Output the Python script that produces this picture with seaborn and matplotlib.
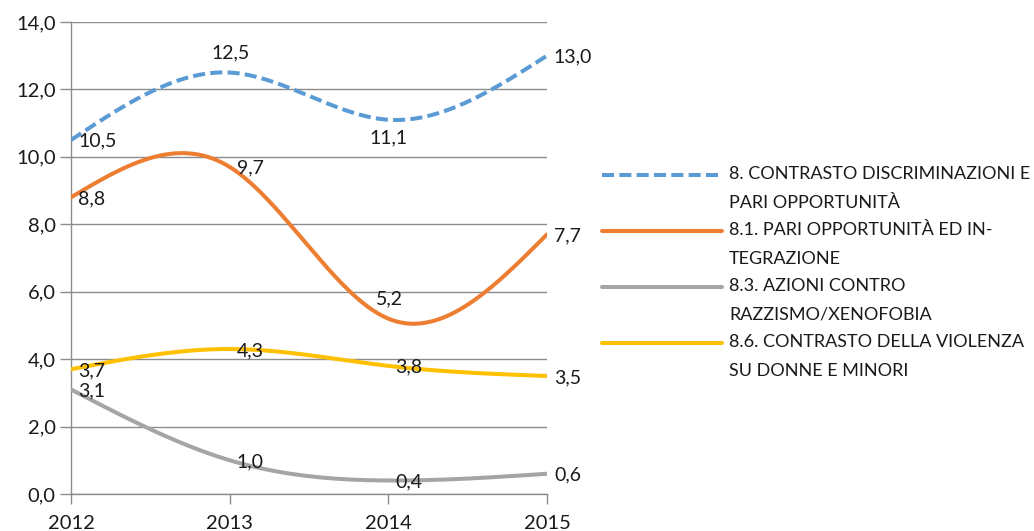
import numpy as np
import pandas as pd
import matplotlib
matplotlib.use("Agg")
import matplotlib.pyplot as plt
import seaborn as sns
from matplotlib.lines import Line2D

# data
years = [2012, 2013, 2014, 2015]
s8 = [10.5, 12.5, 11.1, 13.0]
s81 = [8.8, 9.7, 5.2, 7.7]
s83 = [3.1, 1.0, 0.4, 0.6]
s86 = [3.7, 4.3, 3.8, 3.5]

names = ["8. CONTRASTO DISCRIMINAZIONI E\nPARI OPPORTUNITÀ",
         "8.1. PARI OPPORTUNITÀ ED IN-\nTEGRAZIONE",
         "8.3. AZIONI CONTRO\nRAZZISMO/XENOFOBIA",
         "8.6. CONTRASTO DELLA VIOLENZA\nSU DONNE E MINORI"]
colors = ["#5B9BD5", "#ED7D31", "#A5A5A5", "#FFC000"]

# where the data labels sit (r = right, a = above, b = below)
label_pos = [["r", "a", "b", "r"],
             ["r", "r", "a", "r"],
             ["r", "r", "r", "r"],
             ["r", "r", "r", "r"]]


def smooth(x, y, n=200):
    # natural cubic spline, like the smoothed lines of the original
    x = np.asarray(x, float)
    y = np.asarray(y, float)
    k = len(x)
    h = np.diff(x)
    A = np.zeros((k, k))
    b = np.zeros(k)
    A[0, 0] = A[-1, -1] = 1
    for i in range(1, k - 1):
        A[i, i - 1] = h[i - 1]
        A[i, i] = 2 * (h[i - 1] + h[i])
        A[i, i + 1] = h[i]
        b[i] = 6 * ((y[i + 1] - y[i]) / h[i] - (y[i] - y[i - 1]) / h[i - 1])
    M = np.linalg.solve(A, b)
    xs = np.linspace(x[0], x[-1], n)
    j = np.clip(np.searchsorted(x, xs) - 1, 0, k - 2)
    hj = h[j]
    a = (x[j + 1] - xs) / hj
    t = (xs - x[j]) / hj
    ys = (a * y[j] + t * y[j + 1]
          + ((a ** 3 - a) * M[j] + (t ** 3 - t) * M[j + 1]) * hj ** 2 / 6)
    return xs, ys


sns.set_style("white")
plt.rcParams["font.family"] = ["Lato", "DejaVu Sans"]

fig = plt.figure(figsize=(10.34, 5.31), dpi=100)
ax = fig.add_axes([0.0687, 0.0697, 0.4603, 0.8889])

series = [s8, s81, s83, s86]
for i, vals in enumerate(series):
    xs, ys = smooth(years, vals)
    df = pd.DataFrame({"year": xs, "val": ys})
    ls = (0, (3.0, 1.3)) if i == 0 else "-"
    sns.lineplot(data=df, x="year", y="val", ax=ax, color=colors[i],
                 lw=2.9, linestyle=ls, zorder=3 + i)
    for yr, v, p in zip(years, vals, label_pos[i]):
        txt = f"{v:.1f}".replace(".", ",")
        if p == "r":
            off, ha, va = (5, -1), "left", "center"
        elif p == "a":
            off, ha, va = (1, 14), "center", "center"
        else:
            off, ha, va = (0, -13), "center", "center"
        ax.annotate(txt, (yr, v), xytext=off, textcoords="offset points",
                    ha=ha, va=va, fontsize=14, color="#1a1a1a", zorder=10)

ax.set_xlim(2012, 2015)
ax.set_ylim(0, 14)
ax.set_xticks(years)
ax.set_xticklabels([str(y) for y in years])
ax.set_yticks(np.arange(0, 15, 2))
ax.set_yticklabels([f"{v:.1f}".replace(".", ",") for v in np.arange(0, 15, 2)])
ax.set_xlabel("")
ax.set_ylabel("")
ax.grid(axis="y", color="#8c8c8c", lw=1)
ax.grid(axis="x", visible=False)
for s in ["top", "right"]:
    ax.spines[s].set_visible(False)
for s in ["left", "bottom"]:
    ax.spines[s].set_color("#8c8c8c")
    ax.spines[s].set_linewidth(1)
ax.tick_params(axis="y", length=8, width=1, color="#8c8c8c", labelsize=14.5,
               labelcolor="#1a1a1a", pad=3, left=True)
ax.tick_params(axis="x", length=7, width=1, color="#8c8c8c", labelsize=14.5,
               labelcolor="#1a1a1a", pad=8, bottom=True)
ax.set_axisbelow(True)

# legend, handle at the first line of each entry
W, H = 1034, 531
for i in range(4):
    yc = 175 + 56 * i
    ls = (0, (3.0, 1.3)) if i == 0 else "-"
    fig.add_artist(Line2D([602 / W, 722 / W], [1 - yc / H, 1 - yc / H],
                          color=colors[i], lw=2.9, linestyle=ls))
    fig.text(729 / W, 1 - (yc - 9) / H, names[i], ha="left", va="top",
             fontsize=13, color="#1a1a1a", linespacing=2.0)

fig.savefig("out.png", dpi=100)
